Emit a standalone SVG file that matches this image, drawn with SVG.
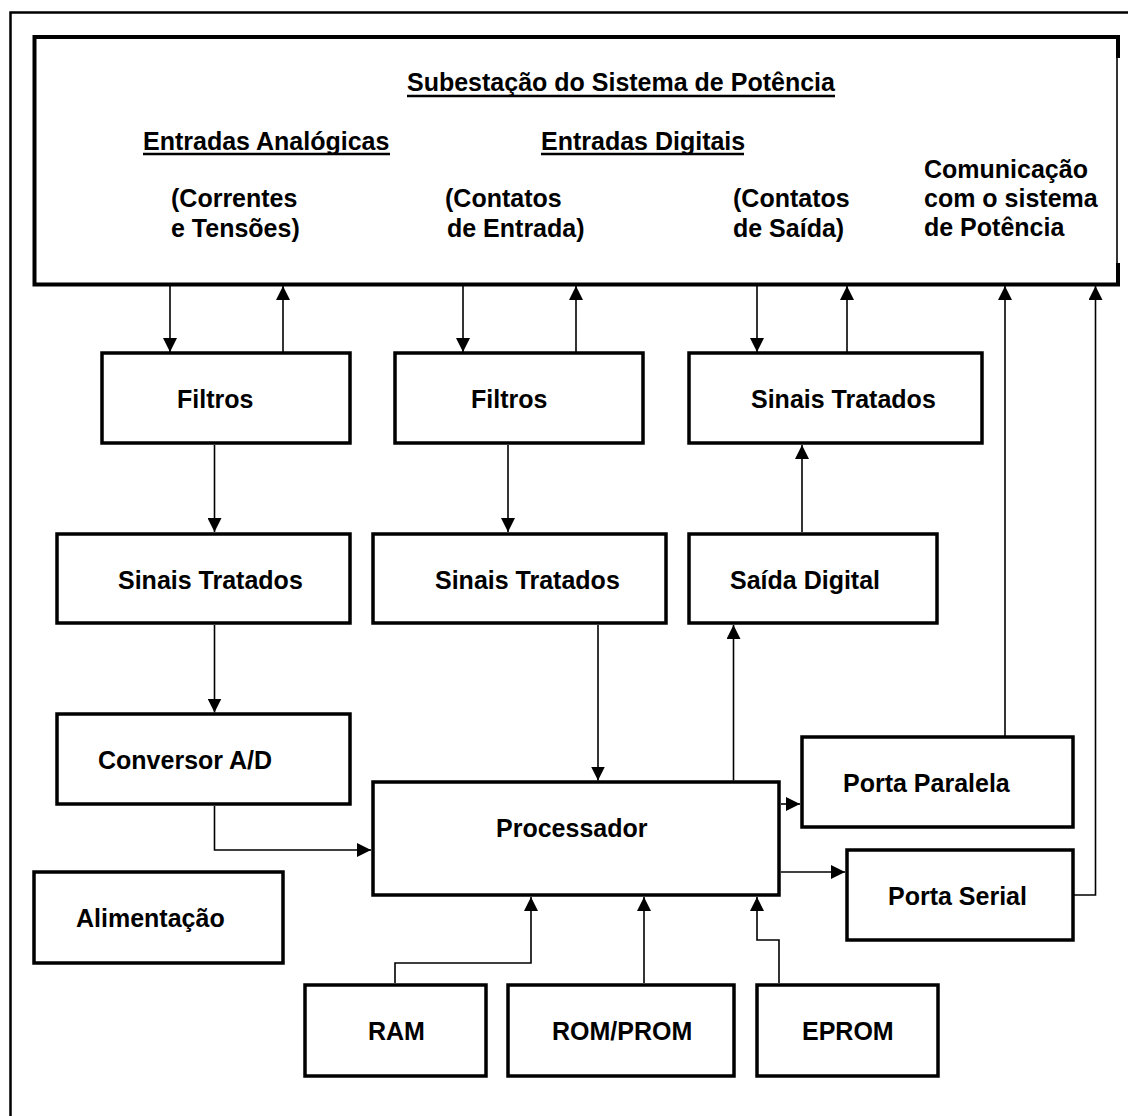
<svg xmlns="http://www.w3.org/2000/svg" width="1128" height="1116" viewBox="0 0 1128 1116">
  <style>
    .lbl { font-family: "Liberation Sans", Arial, sans-serif; font-size: 25px; font-weight: bold; fill: #000; }
    .box { fill: #fff; stroke: #000; stroke-width: 3.5; }
    .wire { fill: none; stroke: #000; stroke-width: 1.6; }
    .uline { stroke: #000; stroke-width: 2.6; }
  </style>
  <defs>
    <marker id="arrow" markerUnits="userSpaceOnUse" markerWidth="14" markerHeight="14" refX="14" refY="7" orient="auto">
      <path d="M0,0 L14,7 L0,14 z" fill="#000"/>
    </marker>
  </defs>

  <rect x="0" y="0" width="1128" height="1116" fill="#fff"/>

  <!-- page frame -->
  <g id="frame" fill="none" stroke="#000" stroke-width="2.5">
    <path d="M10.5,1116 L10.5,12.5 L1128,12.5"/>
  </g>

  <!-- substation block -->
  <g id="substation">
    <path d="M1118,58 L1118,37 L34.5,37 L34.5,284.5 L1118,284.5 L1118,263" fill="#fff" stroke="#000" stroke-width="4"/>
    <line x1="1117" y1="58" x2="1117" y2="263" stroke="#000" stroke-width="1.6"/>
    <text class="lbl" x="407" y="91">Subestação do Sistema de Potência</text>
    <line class="uline" x1="407" y1="96" x2="835" y2="96"/>
    <text class="lbl" x="143" y="150">Entradas Analógicas</text>
    <line class="uline" x1="143" y1="154" x2="390" y2="154"/>
    <text class="lbl" x="541" y="150">Entradas Digitais</text>
    <line class="uline" x1="541" y1="154" x2="744" y2="154"/>
    <text class="lbl" x="171" y="207">(Correntes</text>
    <text class="lbl" x="171" y="237">e Tensões)</text>
    <text class="lbl" x="445" y="207">(Contatos</text>
    <text class="lbl" x="447" y="237">de Entrada)</text>
    <text class="lbl" x="733" y="207">(Contatos</text>
    <text class="lbl" x="733" y="237">de Saída)</text>
    <text class="lbl" x="924" y="178">Comunicação</text>
    <text class="lbl" x="924" y="207">com o sistema</text>
    <text class="lbl" x="924" y="236">de Potência</text>
  </g>

  <!-- connectors -->
  <g id="connectors" class="wire">
    <line x1="170" y1="286" x2="170" y2="352" marker-end="url(#arrow)"/>
    <line x1="283" y1="352" x2="283" y2="286" marker-end="url(#arrow)"/>
    <line x1="463" y1="286" x2="463" y2="352" marker-end="url(#arrow)"/>
    <line x1="576" y1="352" x2="576" y2="286" marker-end="url(#arrow)"/>
    <line x1="757" y1="286" x2="757" y2="352" marker-end="url(#arrow)"/>
    <line x1="847" y1="352" x2="847" y2="286" marker-end="url(#arrow)"/>
    <line x1="1005" y1="736" x2="1005" y2="286" marker-end="url(#arrow)"/>
    <path d="M1074,895 L1095.5,895 L1095.5,286" marker-end="url(#arrow)"/>
    <line x1="214.5" y1="445" x2="214.5" y2="532" marker-end="url(#arrow)"/>
    <line x1="508" y1="445" x2="508" y2="532" marker-end="url(#arrow)"/>
    <line x1="802" y1="532" x2="802" y2="445" marker-end="url(#arrow)"/>
    <line x1="214.5" y1="625" x2="214.5" y2="712.5" marker-end="url(#arrow)"/>
    <path d="M214.5,806 L214.5,850 L371,850" marker-end="url(#arrow)"/>
    <line x1="598" y1="625" x2="598" y2="780.5" marker-end="url(#arrow)"/>
    <line x1="733.5" y1="780.5" x2="733.5" y2="625" marker-end="url(#arrow)"/>
    <line x1="781" y1="804" x2="800" y2="804" marker-end="url(#arrow)"/>
    <line x1="781" y1="872" x2="845" y2="872" marker-end="url(#arrow)"/>
    <path d="M395,983 L395,963 L531,963 L531,897" marker-end="url(#arrow)"/>
    <line x1="644" y1="983" x2="644" y2="897" marker-end="url(#arrow)"/>
    <path d="M779,983 L779,940 L757,940 L757,897" marker-end="url(#arrow)"/>
  </g>

  <!-- blocks -->
  <g id="filtros-analog">
    <rect class="box" x="102" y="353" width="248" height="90"/>
    <text class="lbl" x="177" y="408">Filtros</text>
  </g>
  <g id="sinais-analog">
    <rect class="box" x="57" y="534" width="293" height="89"/>
    <text class="lbl" x="118" y="589">Sinais Tratados</text>
  </g>
  <g id="filtros-digital">
    <rect class="box" x="395" y="353" width="248" height="90"/>
    <text class="lbl" x="471" y="408">Filtros</text>
  </g>
  <g id="sinais-digital">
    <rect class="box" x="373" y="534" width="293" height="89"/>
    <text class="lbl" x="435" y="589">Sinais Tratados</text>
  </g>
  <g id="sinais-saida">
    <rect class="box" x="689" y="353" width="293" height="90"/>
    <text class="lbl" x="751" y="408">Sinais Tratados</text>
  </g>
  <g id="saida-digital">
    <rect class="box" x="689" y="534" width="248" height="89"/>
    <text class="lbl" x="730" y="589">Saída Digital</text>
  </g>
  <g id="conversor">
    <rect class="box" x="57" y="714" width="293" height="90"/>
    <text class="lbl" x="98" y="769">Conversor A/D</text>
  </g>
  <g id="alimentacao">
    <rect class="box" x="34" y="872" width="249" height="91"/>
    <text class="lbl" x="76" y="927">Alimentação</text>
  </g>
  <g id="processador">
    <rect class="box" x="373" y="782" width="406" height="113"/>
    <text class="lbl" x="496" y="837">Processador</text>
  </g>
  <g id="porta-paralela">
    <rect class="box" x="802" y="737" width="271" height="90"/>
    <text class="lbl" x="843" y="792">Porta Paralela</text>
  </g>
  <g id="porta-serial">
    <rect class="box" x="847" y="850" width="226" height="90"/>
    <text class="lbl" x="888" y="905">Porta Serial</text>
  </g>
  <g id="ram">
    <rect class="box" x="305" y="985" width="181" height="91"/>
    <text class="lbl" x="368" y="1040">RAM</text>
  </g>
  <g id="rom-prom">
    <rect class="box" x="508" y="985" width="226" height="91"/>
    <text class="lbl" x="552" y="1040">ROM/PROM</text>
  </g>
  <g id="eprom">
    <rect class="box" x="757" y="985" width="181" height="91"/>
    <text class="lbl" x="802" y="1040">EPROM</text>
  </g>
</svg>
